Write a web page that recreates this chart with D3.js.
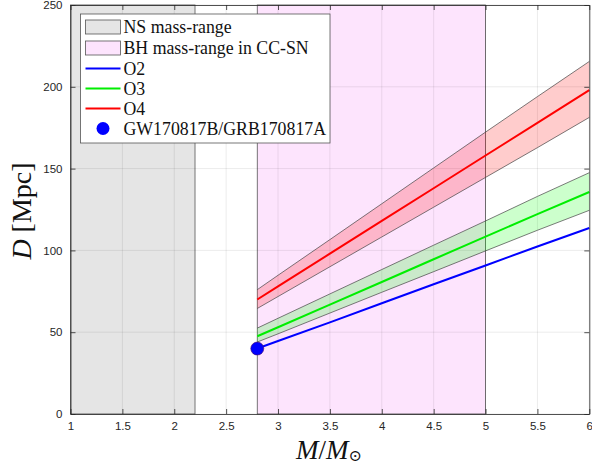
<!DOCTYPE html>
<html>
<head>
<meta charset="utf-8">
<script src="https://cdn.jsdelivr.net/npm/d3@7"></script>
<style>
  body { margin: 0; background: #fff; }
  .tick text { font-family: "Liberation Sans", Arial, sans-serif; font-size: 11.5px; fill: #262626; }
  .serif { font-family: "Liberation Serif", "DejaVu Serif", serif; }
</style>
</head>
<body>
<div id="chart"></div>
<script>
const masses = [2.8, 3, 3.5, 4, 4.5, 5, 5.5, 6];
const o2 = [40, 44.6, 56, 67.7, 79.3, 90.8, 102.4, 113.7];
const o3 = [47.5, 53, 66.9, 80.7, 94.6, 108.4, 122.2, 135.7];
const o3Hi = [52.5, 58.5, 73.4, 88.3, 103.2, 118, 133, 147.5];
const o3Lo = [44, 49, 61.7, 74.4, 87, 99.7, 112.3, 124.5];
const o4 = [70, 78, 98, 118, 138, 158, 178, 198];
const o4Hi = [76, 84.8, 106.6, 128.5, 150.4, 172.3, 194, 215.5];
const o4Lo = [64.5, 71.8, 90, 108.2, 126.4, 144.6, 162.8, 181.3];
const nsRange = [1, 2.2];
const bhRange = [2.8, 5];
const gwEvent = {m: 2.8, d: 40};
const xTicks = [1, 1.5, 2, 2.5, 3, 3.5, 4, 4.5, 5, 5.5, 6];
const yTicks = [0, 50, 100, 150, 200, 250];
const legendLabels = ['NS mass-range', 'BH mass-range in CC-SN', 'O2', 'O3', 'O4', 'GW170817B/GRB170817A'];

const width = 592, height = 465;
const margin = {left: 70.5, right: 2.7, top: 5, bottom: 51};
const w = width - margin.left - margin.right;
const h = height - margin.top - margin.bottom;

const svg = d3.select('#chart').append('svg')
    .attr('width', width)
    .attr('height', height);
const g = svg.append('g')
    .attr('transform', 'translate(' + margin.left + ',' + margin.top + ')');

const x = d3.scaleLinear().domain([1, 6]).range([0, w]);
const y = d3.scaleLinear().domain([0, 250]).range([h, 0]);

// mass range patches
g.append('rect')
    .attr('x', x(nsRange[0])).attr('y', y(250))
    .attr('width', x(nsRange[1]) - x(nsRange[0])).attr('height', y(0) - y(250))
    .attr('fill', '#e5e5e5').attr('stroke', '#555').attr('stroke-width', 0.8);
g.append('rect')
    .attr('x', x(bhRange[0])).attr('y', y(250))
    .attr('width', x(bhRange[1]) - x(bhRange[0])).attr('height', y(0) - y(250))
    .attr('fill', '#fde4fd').attr('stroke', '#555').attr('stroke-width', 0.8);

// grid
g.selectAll('.gx').data(xTicks).enter().append('line')
    .attr('x1', d => x(d)).attr('x2', d => x(d)).attr('y1', 0).attr('y2', h)
    .attr('stroke', '#000').attr('stroke-opacity', 0.1).attr('stroke-width', 0.8);
g.selectAll('.gy').data(yTicks).enter().append('line')
    .attr('y1', d => y(d)).attr('y2', d => y(d)).attr('x1', 0).attr('x2', w)
    .attr('stroke', '#000').attr('stroke-opacity', 0.1).attr('stroke-width', 0.8);

// uncertainty bands
const band = d3.area()
    .x((d, i) => x(masses[i]))
    .y0(d => y(d[0]))
    .y1(d => y(d[1]));
const edge = d3.line().x((d, i) => x(masses[i])).y(d => y(d));

[[o3Lo, o3Hi, '#00ff00'], [o4Lo, o4Hi, '#ff0000']].forEach(([lo, hi, col]) => {
    g.append('path')
        .datum(lo.map((v, i) => [v, hi[i]]))
        .attr('d', band)
        .attr('fill', col).attr('fill-opacity', 0.2);
    g.append('path').datum(lo).attr('d', edge)
        .attr('fill', 'none').attr('stroke', '#444').attr('stroke-width', 0.7);
    g.append('path').datum(hi).attr('d', edge)
        .attr('fill', 'none').attr('stroke', '#444').attr('stroke-width', 0.7);
});

// main lines
[[o2, '#0000ff'], [o3, '#00ee00'], [o4, '#ff0000']].forEach(([vals, col]) => {
    g.append('path').datum(vals).attr('d', edge)
        .attr('fill', 'none').attr('stroke', col).attr('stroke-width', 2);
});

g.append('circle')
    .attr('cx', x(gwEvent.m)).attr('cy', y(gwEvent.d)).attr('r', 6.5)
    .attr('fill', '#0000ff').attr('stroke', '#4a0a6a').attr('stroke-width', 0.6);

// axes with inward ticks on all sides
const axisStyle = sel => {
    sel.select('.domain').attr('stroke', '#262626').attr('stroke-width', 0.8);
    sel.selectAll('.tick line').attr('stroke', '#262626').attr('stroke-width', 0.8);
};
g.append('g').attr('transform', 'translate(0,' + h + ')')
    .call(d3.axisBottom(x).tickValues(xTicks).tickFormat(d3.format('')).tickSize(-5).tickPadding(8).tickSizeOuter(0))
    .call(axisStyle);
g.append('g')
    .call(d3.axisLeft(y).tickValues(yTicks).tickSize(-5).tickPadding(8).tickSizeOuter(0))
    .call(axisStyle);
g.append('g')
    .call(d3.axisTop(x).tickValues(xTicks).tickSize(-5).tickFormat('').tickSizeOuter(0))
    .call(axisStyle);
g.append('g').attr('transform', 'translate(' + w + ',0)')
    .call(d3.axisRight(y).tickValues(yTicks).tickSize(-5).tickFormat('').tickSizeOuter(0))
    .call(axisStyle);

// axis labels
const xl = svg.append('text').attr('class', 'serif')
    .attr('x', 329).attr('y', 459)
    .attr('text-anchor', 'middle')
    .attr('font-size', 27).attr('fill', '#111');
xl.append('tspan').attr('font-style', 'italic').text('M');
xl.append('tspan').text('/');
xl.append('tspan').attr('font-style', 'italic').text('M');
xl.append('tspan').attr('font-size', 16).attr('dy', 2).text('⊙');

const yl = svg.append('text').attr('class', 'serif')
    .attr('transform', 'translate(31,211) rotate(-90)')
    .attr('text-anchor', 'middle')
    .attr('font-size', 28).attr('fill', '#111');
yl.append('tspan').attr('font-style', 'italic').text('D');
yl.append('tspan').text(' [Mpc]');

// legend
const lg = g.append('g').attr('transform', 'translate(' + (80.5 - margin.left) + ',' + (14 - margin.top) + ')');
lg.append('rect').attr('width', 249.5).attr('height', 129)
    .attr('fill', '#fff').attr('stroke', '#555').attr('stroke-width', 0.8);
const rowY = [13, 34, 54.5, 74.5, 94.5, 114.5];
const entry = lg.selectAll('.entry').data(legendLabels).enter().append('g')
    .attr('transform', (d, i) => 'translate(0,' + rowY[i] + ')');
entry.append('text').attr('class', 'serif')
    .attr('x', 43).attr('y', 6)
    .attr('font-size', 17.8).attr('fill', '#111')
    .text(d => d);
entry.filter((d, i) => i === 0).append('rect')
    .attr('x', 5).attr('y', -7).attr('width', 35).attr('height', 14)
    .attr('fill', '#e5e5e5').attr('stroke', '#555').attr('stroke-width', 0.8);
entry.filter((d, i) => i === 1).append('rect')
    .attr('x', 5).attr('y', -7).attr('width', 35).attr('height', 14)
    .attr('fill', '#fde4fd').attr('stroke', '#555').attr('stroke-width', 0.8);
const lineCols = ['#0000ff', '#00ee00', '#ff0000'];
entry.filter((d, i) => i >= 2 && i <= 4).append('line')
    .attr('x1', 5).attr('x2', 40).attr('y1', 0).attr('y2', 0)
    .attr('stroke', (d, i) => lineCols[i]).attr('stroke-width', 2);
entry.filter((d, i) => i === 5).append('circle')
    .attr('cx', 22.5).attr('cy', 0).attr('r', 6.5)
    .attr('fill', '#0000ff');
</script>
</body>
</html>
